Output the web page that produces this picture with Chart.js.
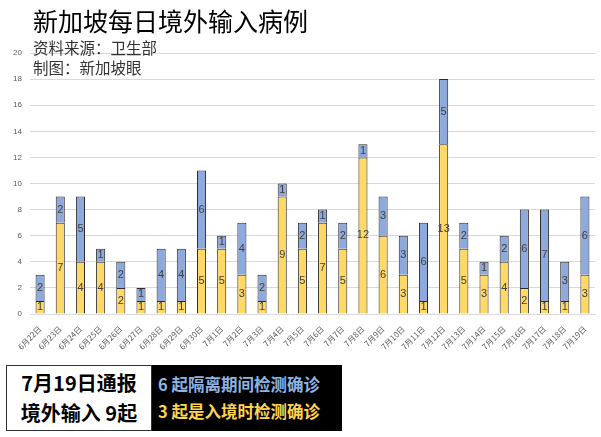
<!DOCTYPE html>
<html>
<head>
<meta charset="utf-8">
<script src="https://cdn.jsdelivr.net/npm/chart.js@4"></script>
<style>
  body { margin: 0; width: 601px; height: 437px; background: #fff; position: relative; overflow: hidden;
         font-family: "Noto Sans CJK SC", "Noto Sans", sans-serif; }
  #wrap { position: absolute; left: 0; top: 0; width: 601px; height: 360px; }
  .title { position: absolute; left: 33px; top: 5px; font-size: 25px; color: #000; line-height: 30px; }
  .sub { position: absolute; left: 33px; font-size: 15.5px; color: #333; line-height: 19px; }
  .box-l { position: absolute; left: 6px; top: 365px; width: 146px; height: 66px; border: 1px solid #333;
           background: #fff; font-weight: bold; font-size: 20px; text-align: center; line-height: 30px; padding-top: 2px; box-sizing: border-box; }
  .box-r { position: absolute; left: 152px; top: 365px; width: 190px; height: 66px; background: #000;
           font-weight: bold; font-size: 16.5px; line-height: 27px; padding: 6px 0 0 6px; box-sizing: border-box; }
</style>
</head>
<body>
<div id="wrap"><canvas id="chart"></canvas></div>
<div class="title">新加坡每日境外输入病例</div>
<div class="sub" style="top:38px">资料来源：卫生部</div>
<div class="sub" style="top:58px">制图：新加坡眼</div>
<div class="box-l">7月19日通报<br>境外输入 9起</div>
<div class="box-r"><span style="color:#8EB4E3">6 起隔离期间检测确诊</span><br><span style="color:#FFD54F">3 起是入境时检测确诊</span></div>
<script>
// categories and values
const dates = ["6月22日", "6月23日", "6月24日", "6月25日", "6月26日", "6月27日", "6月28日", "6月29日", "6月30日",
    "7月1日", "7月2日", "7月3日", "7月4日", "7月5日", "7月6日", "7月7日", "7月8日", "7月9日", "7月10日",
    "7月11日", "7月12日", "7月13日", "7月14日", "7月15日", "7月16日", "7月17日", "7月18日", "7月19日"];
// yellow: detected on arrival
const arrivalCases = [1, 7, 4, 4, 2, 1, 1, 1, 5, 5, 3, 1, 9, 5, 7, 5, 12, 6, 3, 1, 13, 5, 3, 4, 2, 1, 1, 3];
// blue: detected during quarantine
const quarantineCases = [2, 2, 5, 1, 2, 1, 4, 4, 6, 1, 4, 2, 1, 2, 1, 2, 1, 3, 3, 6, 5, 2, 1, 2, 6, 7, 3, 6];
const yTicks = [0, 2, 4, 6, 8, 10, 12, 14, 16, 18, 20];

// draws the number in the middle of each bar segment
const segmentLabels = {
    id: "segmentLabels",
    afterDatasetsDraw(chart) {
        const ctx = chart.ctx;
        ctx.save();
        ctx.font = "11px 'Liberation Sans', sans-serif";
        ctx.fillStyle = "#404040";
        ctx.textAlign = "center";
        ctx.textBaseline = "middle";
        chart.data.datasets.forEach((ds, i) => {
            chart.getDatasetMeta(i).data.forEach((bar, j) => {
                const v = ds.data[j];
                if (!v) return;
                ctx.fillText(String(v), bar.x, (bar.y + bar.base) / 2);
            });
        });
        ctx.restore();
    },
};

new Chart(document.getElementById("chart"), {
    type: "bar",
    data: {
        labels: dates,
        datasets: [
            {
                label: "入境时检测确诊",
                data: arrivalCases,
                backgroundColor: "#FFD966",
                borderColor: "#2a2a2a",
                borderWidth: 1,
                barPercentage: 0.9,
                categoryPercentage: 0.5,
            },
            {
                label: "隔离期间检测确诊",
                data: quarantineCases,
                backgroundColor: "#8EA9DB",
                borderColor: "#2a2a2a",
                borderWidth: 1,
                barPercentage: 0.9,
                categoryPercentage: 0.5,
            },
        ],
    },
    options: {
        responsive: true,
        maintainAspectRatio: false,
        animation: false,
        layout: { padding: { left: 4, right: 6, top: 53, bottom: 0 } },
        plugins: {
            legend: { display: false },
            tooltip: { enabled: false },
        },
        scales: {
            x: {
                stacked: true,
                grid: { display: false },
                border: { color: "#d9d9d9" },
                ticks: {
                    color: "#595959",
                    font: { size: 8, family: "'Noto Sans CJK SC', sans-serif" },
                    minRotation: 45,
                    maxRotation: 45,
                    autoSkip: false,
                    padding: 2,
                },
                afterFit(scale) { scale.height = 46; },
            },
            y: {
                stacked: true,
                min: 0,
                max: 20,
                afterBuildTicks(scale) { scale.ticks = yTicks.map(v => ({ value: v })); },
                grid: { color: "#d9d9d9", drawTicks: false },
                border: { display: false },
                ticks: {
                    color: "#595959",
                    font: { size: 8, family: "'Liberation Sans', sans-serif" },
                    padding: 8,
                },
                afterFit(scale) { scale.width = 26; },
            },
        },
    },
    plugins: [segmentLabels],
});
</script>
</body>
</html>
